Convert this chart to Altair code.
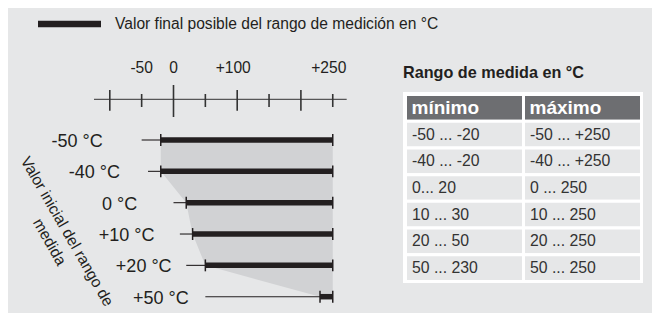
import altair as alt
import pandas as pd

# ---------------- data ----------------
row_labels = ["-50 °C", "-40 °C", "0 °C", "+10 °C", "+20 °C", "+50 °C"]
start_low = [-50, -40, 0, 10, 20, 50]        # lowest possible start value
start_high = [-20, -20, 20, 30, 50, 230]     # highest possible start value
end_value = [250, 250, 250, 250, 250, 250]   # possible final value

axis_major = [-100, 100, 200]
axis_minor = [-50, 50, 150, 250]
axis_zero = [0]
axis_label_values = [-50, 0, 100, 250]
axis_label_texts = ["-50", "0", "+100", "+250"]

legend_text = ["Valor final posible del rango de medición en °C"]
y_title_line1 = ["Valor inicial del rango de"]
y_title_line2 = ["medida"]

table_title = ["Rango de medida en °C"]
table_header = ["mínimo", "máximo"]
table_min = ["-50 ... -20", "-40 ... -20", "0... 20", "10 ... 30", "20 ... 50", "50 ... 230"]
table_max = ["-50 ... +250", "-40 ... +250", "0 ... 250", "10 ... 250", "20 ... 250", "50 ... 250"]

# ---------------- styling ----------------
BG = "#e6e7e8"
INK = "#231f20"
AREA = "#d1d2d4"
HEAD = "#6d6e71"
FONT = "Liberation Sans"

rows = pd.DataFrame({
    "idx": list(range(len(row_labels))),
    "label": row_labels,
    "lo": start_low,
    "hi": start_high,
    "end": end_value,
})

X = alt.Scale(domain=[-100, 250], range=[101.8, 324.75], nice=False, zero=False)
Y = alt.Scale(domain=[0, 5], range=[132, 288.7], nice=False, zero=False)

base = alt.Chart(rows).transform_calculate(
    y_lo="datum.idx - 0.19",
    y_hi="datum.idx + 0.19",
    label_x="-111 + 27 * datum.idx",
)

area = base.mark_area(orient="horizontal", color=AREA).encode(
    y=alt.Y("idx:Q", scale=Y, axis=None),
    x=alt.X("hi:Q", scale=X, axis=None),
    x2="end:Q",
)
thin = base.mark_rule(color=INK, strokeWidth=1.1).encode(
    y=alt.Y("idx:Q", scale=Y, axis=None),
    x=alt.X("lo:Q", scale=X, axis=None),
    x2="hi:Q",
)
thick = base.mark_rule(color=INK, strokeWidth=5.5).encode(
    y=alt.Y("idx:Q", scale=Y, axis=None),
    x=alt.X("hi:Q", scale=X, axis=None),
    x2="end:Q",
)
tick_start = base.mark_rule(color=INK, strokeWidth=1.5).encode(
    x=alt.X("hi:Q", scale=X, axis=None),
    y=alt.Y("y_lo:Q", scale=Y, axis=None),
    y2="y_hi:Q",
)
tick_end = base.mark_rule(color=INK, strokeWidth=1.5).encode(
    x=alt.X("end:Q", scale=X, axis=None),
    y=alt.Y("y_lo:Q", scale=Y, axis=None),
    y2="y_hi:Q",
)
row_text = base.mark_text(align="right", baseline="middle", fontSize=18,
                          font=FONT, color=INK, dy=2).encode(
    x=alt.X("label_x:Q", scale=X, axis=None),
    y=alt.Y("idx:Q", scale=Y, axis=None),
    text="label:N",
)

# ---- hand-drawn style axis ----
axis_line = alt.Chart(pd.DataFrame({"a": [0]})).mark_rule(color="#333333", strokeWidth=1).encode(
    x=alt.value(86), x2=alt.value(338.7), y=alt.value(91.3)
)


def ticks(vals, y0, y1):
    return alt.Chart(pd.DataFrame({"v": vals})).mark_rule(color="#333333", strokeWidth=1.6).encode(
        x=alt.X("v:Q", scale=X, axis=None), y=alt.value(y0), y2=alt.value(y1)
    )


major = ticks(axis_major, 82, 102.7)
minor = ticks(axis_minor, 86, 99)
zero = ticks(axis_zero, 77, 109)
label_df = pd.DataFrame({"v": axis_label_values, "t": axis_label_texts})
axis_labels_neg = alt.Chart(label_df).transform_filter("datum.v <= 0").mark_text(
    align="center", baseline="middle", fontSize=15.6, font=FONT, color=INK
).encode(x=alt.X("v:Q", scale=X, axis=None), y=alt.value(59.5), text="t:N")
axis_labels_pos = alt.Chart(label_df).transform_filter("datum.v > 0").mark_text(
    align="center", baseline="middle", fontSize=15.6, font=FONT, color=INK, dx=-4
).encode(x=alt.X("v:Q", scale=X, axis=None), y=alt.value(59.5), text="t:N")

# ---- legend ----
legend_line = alt.Chart(pd.DataFrame({"a": [0]})).mark_rule(color=INK, strokeWidth=6.5).encode(
    x=alt.value(30), x2=alt.value(93), y=alt.value(16)
)
legend_label = alt.Chart(pd.DataFrame({"t": legend_text})).mark_text(
    align="left", baseline="middle", fontSize=15.6, font=FONT, color=INK
).encode(x=alt.value(107), y=alt.value(16), text="t:N")

# ---- rotated y title ----
yt1 = alt.Chart(pd.DataFrame({"t": y_title_line1})).mark_text(
    align="center", baseline="middle", fontSize=15.6, font=FONT, color=INK, angle=60
).encode(x=alt.value(59), y=alt.value(223.5), text="t:N")
yt2 = alt.Chart(pd.DataFrame({"t": y_title_line2})).mark_text(
    align="center", baseline="middle", fontSize=15.6, font=FONT, color=INK, angle=60
).encode(x=alt.value(41.5), y=alt.value(234), text="t:N")

# ---- table ----
cells = []
for c, h in enumerate(table_header):
    cells.append({"col": c, "row": 0, "t": h, "kind": "head"})
for r in range(len(table_min)):
    cells.append({"col": 0, "row": r + 1, "t": table_min[r], "kind": "body"})
    cells.append({"col": 1, "row": r + 1, "t": table_max[r], "kind": "body"})
cells = pd.DataFrame(cells)

TX = alt.Scale(domain=[0, 2], range=[397.5, 633.5], nice=False, zero=False)
TY = alt.Scale(domain=[0, 7], range=[86.5, 273.5], nice=False, zero=False)

tbase = alt.Chart(cells).transform_calculate(
    col1="datum.col + 1", row1="datum.row + 1", rowc="datum.row + 0.5"
)

table_title_mark = alt.Chart(pd.DataFrame({"t": table_title})).mark_text(
    align="left", baseline="middle", fontSize=16.2, fontWeight="bold", font=FONT, color=INK
).encode(x=alt.value(395), y=alt.value(65), text="t:N")

table_bg = alt.Chart(pd.DataFrame({"a": [0]})).mark_rect(color="white").encode(
    x=alt.value(395), x2=alt.value(635), y=alt.value(84), y2=alt.value(275)
)
cell_rects = tbase.mark_rect(stroke="white", strokeWidth=3).encode(
    x=alt.X("col:Q", scale=TX, axis=None),
    x2="col1:Q",
    y=alt.Y("row:Q", scale=TY, axis=None),
    y2="row1:Q",
    fill=alt.Fill("kind:N", scale=alt.Scale(domain=["head", "body"], range=[HEAD, BG]), legend=None),
)
head_text = tbase.transform_filter("datum.kind == 'head'").mark_text(
    align="left", baseline="middle", fontSize=19, fontWeight="bold", font=FONT, color="white", dx=6
).encode(
    x=alt.X("col:Q", scale=TX, axis=None),
    y=alt.Y("rowc:Q", scale=TY, axis=None),
    text="t:N",
)
body_text = tbase.transform_filter("datum.kind == 'body'").mark_text(
    align="left", baseline="middle", fontSize=15.8, font=FONT, color="#333333", dx=6.5
).encode(
    x=alt.X("col:Q", scale=TX, axis=None),
    y=alt.Y("rowc:Q", scale=TY, axis=None),
    text="t:N",
)

chart = alt.layer(
    area, thin, thick, tick_start, tick_end, row_text,
    axis_line, major, minor, zero, axis_labels_neg, axis_labels_pos,
    legend_line, legend_label, yt1, yt2,
    table_title_mark, table_bg, cell_rects, head_text, body_text,
).resolve_scale(
    x="independent", y="independent", fill="independent"
).properties(
    width=644, height=305,
    autosize=alt.AutoSizeParams(type="none"),
    padding=0,
    background=BG,
).configure_view(stroke=None)

chart.save("out.html", embed_options={"renderer": "svg", "actions": False})
